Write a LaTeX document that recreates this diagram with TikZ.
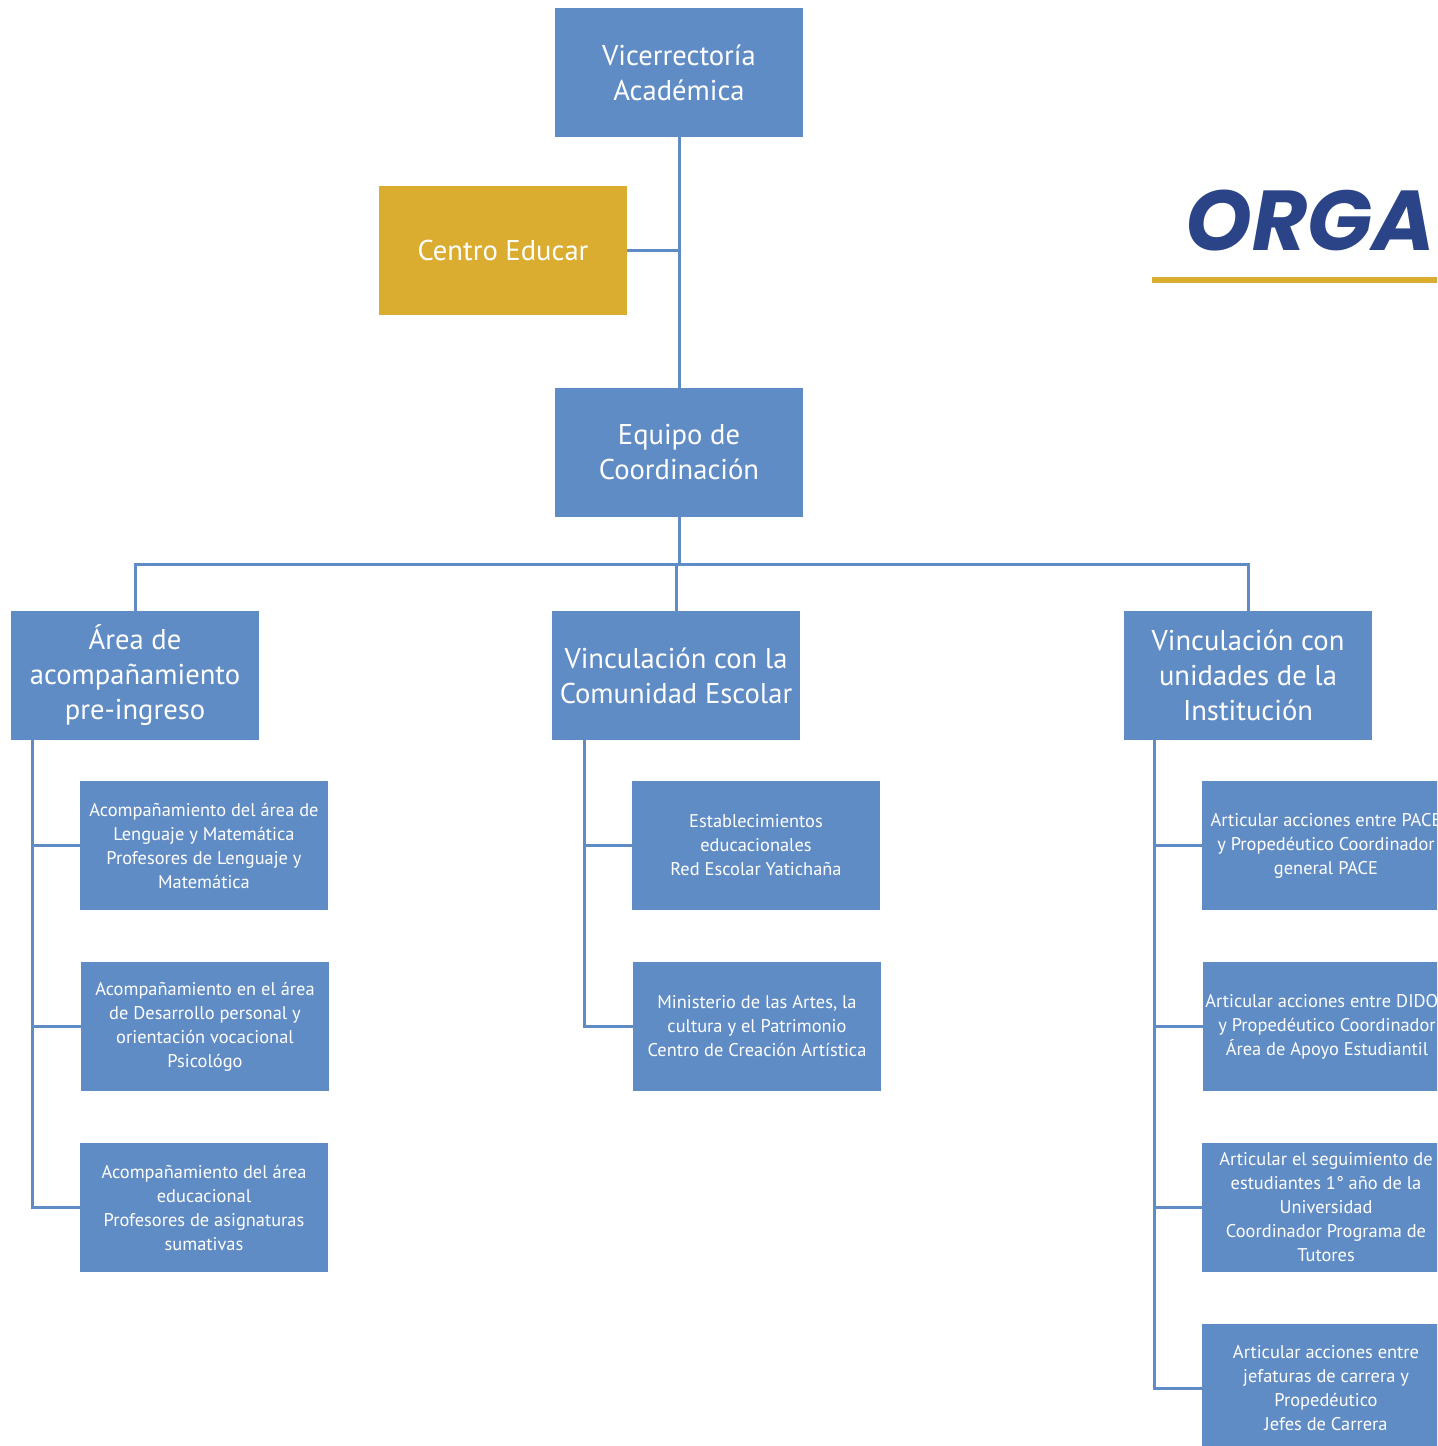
\documentclass[tikz,border=0pt]{standalone}
\usepackage{fontspec}
\setmainfont{PT Sans}
\newfontfamily\orgafont{Poppins}
\usepackage{tikz}
\usetikzlibrary{positioning}

\definecolor{boxblue}{RGB}{96,140,198}
\definecolor{lineblue}{RGB}{96,140,198}
\definecolor{educar}{RGB}{218,172,48}
\definecolor{orgablue}{RGB}{43,68,136}

\tikzset{
  unit/.style={rectangle,fill=boxblue,text=white,minimum width=124pt,minimum height=64.5pt,
    inner sep=0pt,align=center,font=\fontsize{14.3}{17.5}\selectfont},
  task/.style={unit,font=\fontsize{9.2}{12}\selectfont},
  link/.style={draw=lineblue,line width=1.5pt},
}

\begin{document}
\begin{tikzpicture}[x=0.5pt,y=-0.5pt]
  \useasboundingbox (0,0) rectangle (1437,1446);
  \clip (0,0) rectangle (1437,1446);

  % title
  \node at (1185,250) (orga) [anchor=base west,inner sep=0pt,text=orgablue,font=\orgafont\bfseries\itshape\fontsize{42.5}{42.5}\selectfont] {ORGA};
  \draw[educar,line width=3pt] (1152,280) -- (1460,280);

  % top
  \node at (679,72.5) (vra) [unit] {Vicerrectoría\\Académica};
  \node at (503,250.5) (ce) [unit,fill=educar] {Centro Educar};
  \node at (679,452.5) (eq) [unit] {Equipo de\\Coordinación};

  % areas
  \node at (135,675.5) (area) [unit] {Área de\\acompañamiento\\pre-ingreso};
  \node at (676,675.5) (vce) [unit] {Vinculación con la\\Comunidad Escolar};
  \node at (1248,675.5) (vui) [unit] {Vinculación con\\unidades de la\\Institución};

  % left column
  \node at (204,845.5) (a1) [task] {Acompañamiento del área de\\Lenguaje y Matemática\\Profesores de Lenguaje y\\Matemática};
  \node at (205,1026.5) (a2) [task] {Acompañamiento en el área\\de Desarrollo personal y\\orientación vocacional\\Psicológo};
  \node at (204,1207.5) (a3) [task] {Acompañamiento del área\\educacional\\Profesores de asignaturas\\sumativas};

  % middle column
  \node at (756,845.5) (e1) [task] {Establecimientos\\educacionales\\Red Escolar Yatichaña};
  \node at (757,1026.5) (e2) [task] {Ministerio de las Artes, la\\cultura y el Patrimonio\\Centro de Creación Artística};

  % right column
  \node at (1326,845.5) (u1) [task] {Articular acciones entre PACE\\y Propedéutico Coordinador\\general PACE};
  \node at (1327,1026.5) (u2) [task] {Articular acciones entre DIDOC\\y Propedéutico Coordinador\\Área de Apoyo Estudiantil};
  \node at (1326,1207.5) (u3) [task] {Articular el seguimiento de\\estudiantes 1° año de la\\Universidad\\Coordinador Programa de\\Tutores};
  \node at (1326,1388.5) (u4) [task] {Articular acciones entre\\jefaturas de carrera y\\Propedéutico\\Jefes de Carrera};

  \coordinate (bus) at (0,564);
  \coordinate (lt) at ([xshift=11pt]area.south west);
  \coordinate (mt) at ([xshift=16.5pt]vce.south west);
  \coordinate (rt) at ([xshift=15.5pt]vui.south west);

  \path[link]
        (vra) edge (eq)
        (ce) edge (ce -| vra)
        (eq.south) edge (eq.south |- bus)
        (vce.north) edge (vce.north |- bus)
        ;
  \draw[link] (area.north) |- (vui.north |- bus) -- (vui.north);

  \draw[link] (lt) |- (a3.west);
  \draw[link] (a1.west) -- (a1.west -| lt);
  \draw[link] (a2.west) -- (a2.west -| lt);

  \draw[link] (mt) |- (e2.west);
  \draw[link] (e1.west) -- (e1.west -| mt);

  \draw[link] (rt) |- (u4.west);
  \draw[link] (u1.west) -- (u1.west -| rt);
  \draw[link] (u2.west) -- (u2.west -| rt);
  \draw[link] (u3.west) -- (u3.west -| rt);
\end{tikzpicture}
\end{document}
